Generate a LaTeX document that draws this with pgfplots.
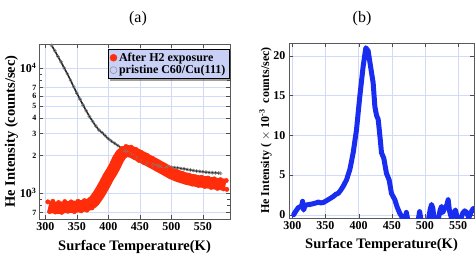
\documentclass[border=0pt]{standalone}
\usepackage{pgfplots}
\pgfplotsset{compat=1.18}
\usepackage{fontspec}
\setmainfont{Liberation Serif}
\usetikzlibrary{shadows}
\definecolor{gridc}{RGB}{210,218,250}
\definecolor{myred}{RGB}{255,45,10}
\definecolor{myblue}{RGB}{25,45,240}
\definecolor{legfill}{RGB}{200,208,245}
\begin{document}
\begin{tikzpicture}[x=1pt,y=1pt]
\useasboundingbox (0,0) rectangle (475,255);
\node at (138,236) {\fontsize{16}{18}\selectfont (a)};
\node at (362,236) {\fontsize{16}{18}\selectfont (b)};
\begin{axis}[at={(39pt,36pt)}, anchor=south west, scale only axis,
  width=191pt, height=175pt, ymode=log,
  xmin=290, xmax=593, ymin=620, ymax=15600,
  xtick={300,350,400,450,500,550},
  ytick={700,1000,2000,3000,4000,5000,6000,7000,10000},
  yticklabels={{\fontsize{8}{9}\selectfont 7},10\textsuperscript{3},{\fontsize{8}{9}\selectfont 2},{\fontsize{8}{9}\selectfont 3},{\fontsize{8}{9}\selectfont 4},{\fontsize{8}{9}\selectfont 5},{\fontsize{8}{9}\selectfont 6},{\fontsize{8}{9}\selectfont 7},10\textsuperscript{4}},
  minor ytick={800,900,8000,9000},
  grid=major, grid style={gridc, line width=0.4pt},
  axis line style={black!65}, tick style={black!70},
  tick align=inside,
  /pgf/number format/assume math mode=true,
  tick label style={font=\bfseries\fontsize{12}{14}\selectfont},
  yticklabel style={xshift=1pt},
  xlabel={\bfseries Surface Temperature(K)},
  ylabel={\bfseries He Intensity (counts/sec)},
  label style={font=\bfseries\fontsize{14.5}{16}\selectfont},
  xlabel style={yshift=-2.5pt},
  ylabel style={yshift=-5pt},
  legend style={at={(0.995,0.971)}, anchor=north east, fill=legfill, draw=black,
    drop shadow={shadow xshift=2pt, shadow yshift=-2pt, fill=black!75},
    font=\bfseries\fontsize{12}{14}\selectfont, inner sep=1.5pt, row sep=-1.5pt},
  legend cell align=left,
]
\addlegendimage{only marks, mark=*, myred, mark size=3.5pt}
\addlegendentry{After H2 exposure}
\addlegendimage{only marks, mark=o, gray, mark size=3.5pt}
\addlegendentry{pristine C60/Cu(111)}
\addplot[forget plot, black!85, line width=1.6pt, mark=o, mark size=1.6pt, mark options={gray, line width=0.5pt}] coordinates {
(310,15200)(315,13800)(320,12400)(325,11200)(330,10000)(335,9000)(340,8000)
(345,7100)(350,6300)(355,5650)(360,5050)(365,4550)(370,4100)(375,3750)
(380,3450)(385,3200)(390,3050)(395,2880)(400,2720)(405,2600)(410,2500)
(415,2400)(420,2300)(425,2200)(430,2120)(435,2050)(440,1980)(445,1900)
(450,1830)(455,1770)(460,1730)(465,1700)(470,1680)(475,1660)(480,1650)(485,1640)
(490,1630)(495,1620)(500,1610)(505,1600)(510,1590)(515,1575)(520,1560)(525,1545)
(530,1530)(535,1515)(540,1500)(545,1490)(550,1480)(555,1470)(560,1460)
(565,1455)(570,1450)(575,1445)(578,1440)};
\addplot[forget plot, myred, line width=12pt, line join=round] coordinates {
(305,780)(310,770)(320,760)(330,770)(340,775)(350,780)(360,790)(368,805)
(375,840)(380,900)(385,980)(390,1080)(395,1200)(400,1340)(405,1470)(410,1630)
(415,1850)(420,2030)(425,2130)(430,2170)(435,2150)(440,2100)(450,1980)
(460,1860)(470,1750)(480,1640)(490,1540)(500,1440)(510,1370)(520,1320)
(530,1280)(540,1250)(550,1230)(560,1210)(570,1190)(580,1175)(586,1160)};
\addplot[forget plot, only marks, myred, mark=*, mark size=2.2pt] coordinates {
(304,850)(307,710)(312,860)(316,705)(321,840)(326,700)(331,855)(336,715)
(341,850)(346,710)(352,860)(357,720)(362,870)(366,730)(371,890)(374,760)
(378,970)(382,830)(386,1080)(389,960)(393,1230)(396,1090)(399,1480)(402,1280)
(406,1650)(409,1480)(413,1930)(417,1760)(421,2260)(424,1960)(428,2360)(432,2030)
(436,2330)(440,1940)(444,2230)(448,1830)(452,2110)(456,1760)(461,2010)(465,1680)
(470,1890)(474,1600)(479,1780)(483,1520)(488,1670)(493,1430)(498,1560)(503,1340)
(508,1490)(513,1280)(518,1430)(523,1220)(528,1390)(533,1180)(538,1350)(543,1150)
(548,1340)(553,1130)(558,1320)(563,1110)(568,1300)(573,1090)(578,1280)(583,1080)(587,1260)(588,1070)};
\end{axis}
\begin{axis}[at={(289pt,37pt)}, anchor=south west, scale only axis,
  width=185pt, height=175pt,
  xmin=295, xmax=574, ymin=-0.4, ymax=21.6,
  xtick={300,350,400,450,500,550},
  ytick={0,5,10,15,20},
  grid=major, grid style={gridc, line width=0.4pt},
  axis line style={black!65}, tick style={black!70},
  tick align=inside,
  /pgf/number format/assume math mode=true,
  tick label style={font=\bfseries\fontsize{12}{14}\selectfont},
  xlabel={\bfseries Surface Temperature(K)},
  ylabel={\bfseries He Intensity ( $\times$ 10\textsuperscript{-3}\ \ counts/sec)},
  label style={font=\bfseries\fontsize{14.5}{16}\selectfont},
  xlabel style={yshift=-2pt},
  ylabel style={font=\bfseries\fontsize{12}{14}\selectfont, yshift=-5pt},
]
\addplot[myblue, line width=5pt, line join=round, line cap=round] coordinates {
(302,0.0)(304,0.3)(306.5,0.6)(309,0.9)(311.5,1.0)(314,1.1)(315.5,1.7)(317,0.6)
(319,1.1)(321.5,1.25)(326,1.3)(331.6,1.4)(336,1.5)(339,1.6)(343,1.5)(346.7,1.55)
(350,1.7)(354,1.9)(358,2.1)(361.7,2.3)(366,2.6)(369.3,2.7)(373,3.1)(376.8,3.6)
(381.8,4.4)(386.8,5.7)(391.8,7.8)(396.8,10.7)(401.8,14.9)(406.9,18.7)(410.9,21.0)
(414.4,20.6)(417.9,18.7)(421.9,16.6)(424.5,13.6)(427,12.5)(429.5,12)(432,10)
(434.5,7.8)(438,7.1)(442,5.2)(446,4.4)(449.5,2.7)(452,2.3)(454.6,1.9)(458,1.0)
(462,0.2)(465.6,-0.3)(468,-1)(470,-0.6)(472,0.3)(474,-0.6)(478,-1.5)(485,-1)
(490,-0.6)(492,0.4)(494,-0.6)(500,-1)(505,-0.8)(508,0.7)(510,1.3)(512,0.8)
(514,-0.7)(520,-0.6)(523,0.6)(525,1.05)(527,0.3)(530,0.9)(533,1.2)(535,1.9)
(537,0.5)(540,-0.4)(543,0.2)(546,0.6)(549,-0.5)(553,-0.8)(557,0.2)(560,0.5)
(563,0.3)(566,-0.4)(570,0.4)(573,0.8)(576,0.5)};
\end{axis}
\end{tikzpicture}
\end{document}
